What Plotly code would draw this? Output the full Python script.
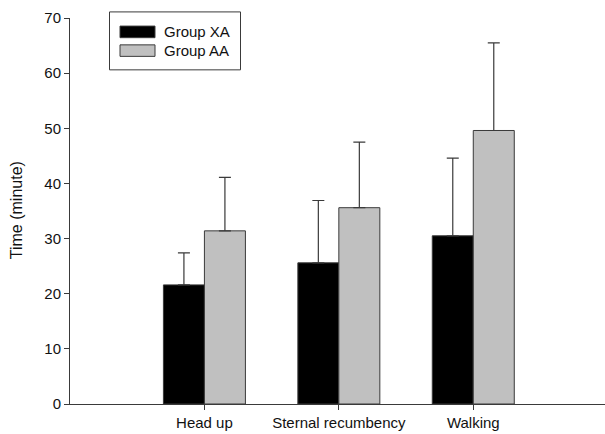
import plotly.graph_objects as go

categories = ["Head up", "Sternal recumbency", "Walking"]
series_names = ["Group XA", "Group AA"]
xa_mean = [21.6, 25.6, 30.5]
xa_sd = [5.8, 11.3, 14.1]
aa_mean = [31.4, 35.6, 49.6]
aa_sd = [9.7, 11.9, 15.9]
y_ticks = [0, 10, 20, 30, 40, 50, 60, 70]
y_title = "Time (minute)"

W, H = 605, 434
ML, MR, MT, MB = 70, 0, 17.6, 30
FONT = "Arial, Liberation Sans, sans-serif"
AX = "#3a3a3a"
TXT = "#111111"
colors = ["#000000", "#c0c0c0"]

fig = go.Figure()
for name, mean, sd, col in [(series_names[0], xa_mean, xa_sd, colors[0]),
                            (series_names[1], aa_mean, aa_sd, colors[1])]:
    fig.add_trace(go.Bar(
        x=categories, y=mean, name=name,
        marker=dict(color=col, line=dict(color=AX, width=1)),
        error_y=dict(type="data", array=sd, arrayminus=[0] * len(sd),
                     symmetric=False, width=6, thickness=1.2, color=AX),
        showlegend=False,
    ))

# custom legend (box + wide swatches) in paper coordinates
pw, ph = W - ML - MR, H - MT - MB
def px(x):
    return (x - ML) / pw
def py(y):
    return (H - MB - y) / ph

shapes = [dict(type="rect", xref="paper", yref="paper",
               x0=px(109.5), x1=px(240.5), y0=py(69.5), y1=py(11.5),
               line=dict(color=AX, width=1), fillcolor="white", layer="above")]
annotations = []
rows = [(25.7, 37.3), (44.5, 56)]
for (t, b), name, col in zip(rows, series_names, colors):
    shapes.append(dict(type="rect", xref="paper", yref="paper",
                       x0=px(120), x1=px(155), y0=py(b), y1=py(t),
                       fillcolor=col, line=dict(color=AX, width=1), layer="above"))
    annotations.append(dict(xref="paper", yref="paper", x=px(162), y=py((t + b) / 2),
                            text=name, showarrow=False, xanchor="left", yanchor="middle",
                            font=dict(family=FONT, size=15, color=TXT)))

# y-axis title
annotations.append(dict(xref="paper", yref="paper", x=px(16), y=py(210),
                        text=y_title, textangle=-90, showarrow=False,
                        xanchor="center", yanchor="middle",
                        font=dict(family=FONT, size=16, color=TXT)))

fig.update_layout(
    width=W, height=H,
    margin=dict(l=ML, r=MR, t=MT, b=MB, pad=0),
    paper_bgcolor="white", plot_bgcolor="white",
    barmode="group", bargap=0.39, bargroupgap=0,
    font=dict(family=FONT, size=15, color=TXT),
    shapes=shapes, annotations=annotations,
    xaxis=dict(range=[-1, 2.98], showline=True, linecolor=AX, linewidth=1,
               ticks="outside", ticklen=5, tickcolor=AX, tickwidth=1,
               showgrid=False, zeroline=False, automargin=False,
               tickfont=dict(family=FONT, size=15, color=TXT)),
    yaxis=dict(range=[0, 70], tickvals=y_ticks, showline=True, linecolor=AX, linewidth=1,
               ticks="outside", ticklen=5, tickcolor=AX, tickwidth=1,
               showgrid=False, zeroline=False, automargin=False,
               tickfont=dict(family=FONT, size=15, color=TXT)),
)

fig.write_html("out.html")
